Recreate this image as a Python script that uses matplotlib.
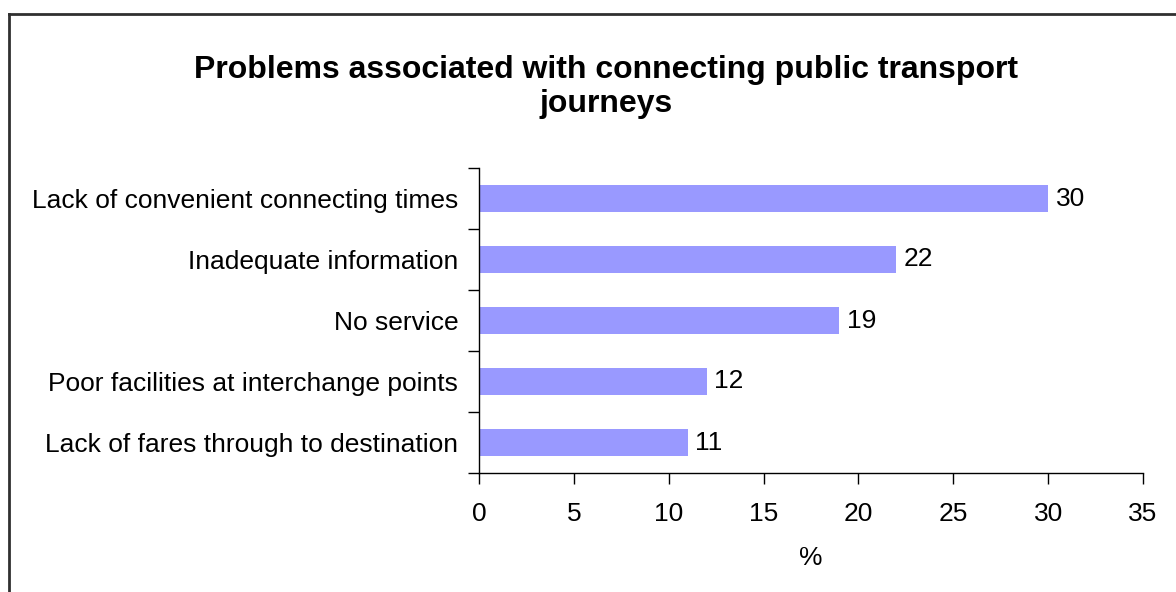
import matplotlib.pyplot as plt
from matplotlib.lines import Line2D

plt.rcParams["font.family"] = ["Liberation Sans", "DejaVu Sans"]

categories = [
    "Lack of convenient connecting times",
    "Inadequate information",
    "No service",
    "Poor facilities at interchange points",
    "Lack of fares through to destination",
]
values = [30, 22, 19, 12, 11]
xticks = [0, 5, 10, 15, 20, 25, 30, 35]

fig = plt.figure(figsize=(11.76, 5.92), dpi=100)
ax = fig.add_axes([479 / 1176, 1 - 473 / 592, 664 / 1176, 305 / 592])

n = len(categories)
pos = [n - 1 - i + 0.5 for i in range(n)]
ax.barh(pos, values, height=0.45, color="#9999FF", edgecolor="none")

for p, v in zip(pos, values):
    ax.text(v + 0.4, p, str(v), va="center", ha="left", fontsize=19)

ax.set_xlim(0, 35)
ax.set_ylim(0, n)
ax.set_xticks(xticks)
ax.tick_params(axis="x", labelsize=19, length=8, width=1, pad=13)

# boundary ticks between bars, labels on minor ticks at bar centres
ax.set_yticks(range(n + 1))
ax.set_yticklabels([])
ax.tick_params(axis="y", which="major", length=8, width=1)
ax.set_yticks(pos, minor=True)
ax.set_yticklabels(categories, minor=True)
ax.tick_params(axis="y", which="minor", length=0, labelsize=19, pad=15)

for side in ("top", "right"):
    ax.spines[side].set_visible(False)
for side in ("left", "bottom"):
    ax.spines[side].set_linewidth(1)

ax.set_xlabel("%", fontsize=19, labelpad=14)

fig.text(606 / 1176, 1 - 55 / 592,
         "Problems associated with connecting public transport\njourneys",
         ha="center", va="top", fontsize=23, fontweight="bold", linespacing=1.17)

# chart area frame (left and top edges)
x0 = 9 / 1176
y0 = 1 - 14 / 592
fig.add_artist(Line2D([x0, x0], [0, y0], transform=fig.transFigure,
                      color="#303030", lw=2))
fig.add_artist(Line2D([x0, 1], [y0, y0], transform=fig.transFigure,
                      color="#303030", lw=2))

fig.savefig("out.png", dpi=100)
